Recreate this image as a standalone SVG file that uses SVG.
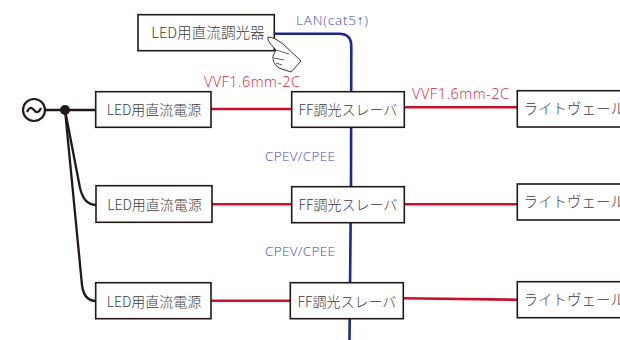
<svg xmlns="http://www.w3.org/2000/svg" width="620" height="340" viewBox="0 0 620 340">
<style>
text{font-family:"Noto Sans CJK JP","Open Sans",sans-serif;font-weight:300}
.box{fill:#fff;stroke:#231815;stroke-width:1.6}
.t{font-size:14px;fill:#3e3a39;text-anchor:middle}
.d{font-size:14.600px;fill:#3e3a39;text-anchor:middle}
.w{font-size:14.500px;fill:#3e3a39}
.r{font-size:14.500px;fill:#d7193c;font-family:"Open Sans",sans-serif}
.b{font-size:13.500px;fill:#3f4aa8;font-family:"Open Sans",sans-serif;font-weight:300}
.red{fill:none;stroke:#c8102e;stroke-width:2.6}
.blue{fill:none;stroke:#1b2a8c;stroke-width:2.6}
.blk{fill:none;stroke:#231815;stroke-width:2.300}
</style>
<g id="connectors">
<path class="blue" d="M273 33.700H339Q351.300 33.700 351.300 46L351 186L349.500 340"/>
<path class="blk" d="M46 110H96"/>
<path class="blk" d="M65 110L80 188Q84 205 96 205"/>
<path class="blk" d="M65 110L82 285Q84 301 96 301"/>
<path class="red" d="M211 109H292"/>
<path class="red" d="M212 204.300H292"/>
<path class="red" d="M211 300.700H291"/>
<path class="red" d="M404 107.300H518"/>
<path class="red" d="M404 204.300H518"/>
<path class="red" d="M403 298.300L518 299.700"/>
</g>
<g id="ac-source">
<circle cx="34" cy="110" r="11" fill="#fff" stroke="#231815" stroke-width="2.200"/>
<path d="M27 112Q30 105 34 110T41 108" fill="none" stroke="#231815" stroke-width="2.200"/>
<circle cx="65" cy="110" r="5" fill="#231815"/>
</g>
<g id="dimmer"><rect class="box" x="138" y="14.700" width="136.300" height="36"/><text class="d" x="208" y="38">LED用直流調光器</text></g>
<g id="psu1"><rect class="box" x="95.700" y="91.700" width="115.300" height="35.600"/><text class="t" x="154" y="115">LED用直流電源</text></g>
<g id="psu2"><rect class="box" x="96" y="185.700" width="116" height="36.600"/><text class="t" x="154.500" y="210">LED用直流電源</text></g>
<g id="psu3"><rect class="box" x="95.700" y="282.700" width="115.300" height="36"/><text class="t" x="154" y="307">LED用直流電源</text></g>
<g id="slave1"><rect class="box" x="291.700" y="91.700" width="112.600" height="35.600"/><text class="t" x="348" y="115">FF調光スレーバ</text></g>
<g id="slave2"><rect class="box" x="291.700" y="186.700" width="112.600" height="36"/><text class="t" x="348" y="210">FF調光スレーバ</text></g>
<g id="slave3"><rect class="box" x="290.300" y="282.700" width="113" height="36"/><text class="t" x="347" y="307">FF調光スレーバ</text></g>
<g id="well1"><rect class="box" x="517.300" y="90.700" width="112" height="36.300"/><text class="w" x="523.500" y="114">ライトヴェール</text></g>
<g id="well2"><rect class="box" x="517.300" y="184" width="112" height="36"/><text class="w" x="523.500" y="207">ライトヴェール</text></g>
<g id="well3"><rect class="box" x="517.300" y="281.700" width="112" height="36"/><text class="w" x="523.500" y="305">ライトヴェール</text></g>
<g id="hand"><path d="M268 37Q274 37 283 44L301 61L291 72L279 68Q272 63 273 56L276 50Q270 44 268 40Z" fill="#fff" stroke="#231815" stroke-width="0.900"/><path d="M276 50L289 54M274 58L284 60M276 63L282 65" fill="none" stroke="#231815" stroke-width="0.700"/></g>
<g id="labels">
<text class="b" x="296" y="25" textLength="72">LAN(cat5↑)</text>
<text class="r" x="204" y="87" textLength="96">VVF1.6mm-2C</text>
<text class="r" x="412" y="99" textLength="97">VVF1.6mm-2C</text>
<text class="b" x="265" y="161" textLength="70">CPEV/CPEE</text>
<text class="b" x="265" y="256" textLength="70">CPEV/CPEE</text>
</g>
</svg>
